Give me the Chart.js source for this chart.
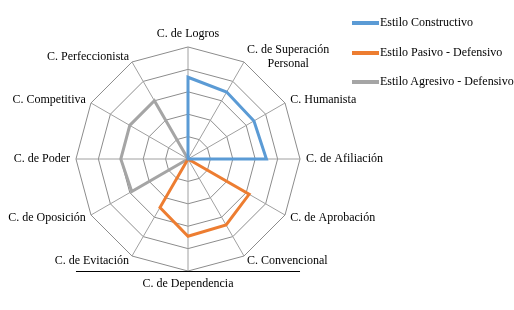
<!DOCTYPE html>
<html>
<head>
<meta charset="utf-8">
<script src="https://cdn.jsdelivr.net/npm/chart.js@4"></script>
<style>
html,body{margin:0;padding:0;background:#fff}
#wrap{position:relative;width:514px;height:310px}
#leyenda{position:absolute;left:352px;top:15px;font:12px 'Liberation Serif','Times New Roman',serif;color:#000}
#leyenda div{height:29.5px;display:flex;align-items:flex-start}
#leyenda span.ln{display:inline-block;width:27px;height:4px;margin-top:6px;margin-right:1px}
</style>
</head>
<body>
<div id="wrap"><canvas id="c" width="514" height="310"></canvas><div id="leyenda"></div></div>
<script>
'use strict';
// categorias (sentido horario desde arriba)
const categorias=['C. de Logros',['C. de Superación','Personal'],'C. Humanista','C. de Afiliación','C. de Aprobación','C. Convencional','C. de Dependencia','C. de Evitación','C. de Oposición','C. de Poder','C. Competitiva','C. Perfeccionista'];
const constructivo=[73,69,68,70,0,0,0,0,0,0,0,0];
const pasivoDefensivo=[0,0,0,0,63,68,69,50,0,0,0,0];
const agresivoDefensivo=[0,0,0,0,0,0,0,0,58,60,60,60];
const series=['Estilo Constructivo','Estilo Pasivo - Defensivo','Estilo Agresivo - Defensivo'];
const colores=['#5B9BD5','#ED7D31','#A5A5A5'];

const fuente="'Liberation Serif','Times New Roman',serif";

// linea inferior que aparece en la imagen original
const lineaBase={id:'lineaBase',afterDraw(ch){
  const r=ch.scales.r,ctx=ch.ctx;
  ctx.save();ctx.strokeStyle='#000';ctx.lineWidth=1;
  const y=Math.round(r.yCenter+r.drawingArea)+0.5;
  ctx.beginPath();ctx.moveTo(r.xCenter-r.drawingArea,y);ctx.lineTo(r.xCenter+r.drawingArea,y);ctx.stroke();
  ctx.restore();
}};

// etiquetas diagonales centradas verticalmente en su punto (como Excel)
const centrarEtiquetas=(s)=>{
  const n=s._pointLabels.length;
  (s._pointLabelItems||[]).forEach((it,i)=>{
    const a=i*360/n;
    if(a%90===0)return;
    const h=it.bottom-it.top,d=(a<90||a>270)?h/2:-h/2;
    it.y+=d;it.top+=d;it.bottom+=d;
    if(Array.isArray(s._pointLabels[i])){it.textAlign='center';it.x=(it.left+it.right)/2}
  });
};

const ds=(label,data,col)=>({label,data,borderColor:col,backgroundColor:col,borderWidth:3,fill:false,pointRadius:0,pointHoverRadius:0,tension:0,borderJoinStyle:'miter'});

new Chart(document.getElementById('c'),{
  type:'radar',
  data:{labels:categorias,datasets:[
    ds(series[0],constructivo,colores[0]),
    ds(series[1],pasivoDefensivo,colores[1]),
    ds(series[2],agresivoDefensivo,colores[2])
  ]},
  options:{
    responsive:false,animation:false,
    layout:{padding:{left:2,right:122,top:21,bottom:13}},
    plugins:{tooltip:{enabled:false},legend:{display:false}},
    scales:{r:{
      min:0,max:100,
      ticks:{stepSize:20,display:false},
      grid:{color:'#8c8c8c',lineWidth:1},
      angleLines:{color:'#a0a0a0',lineWidth:1},
      pointLabels:{font:{family:fuente,size:12},color:'#000',padding:6},
      afterFit:centrarEtiquetas
    }}
  },
  plugins:[lineaBase]
});

// leyenda
document.getElementById('leyenda').innerHTML=series.map((s,i)=>`<div><span class="ln" style="background:${colores[i]}"></span>${s}</div>`).join('');
</script>
</body>
</html>
